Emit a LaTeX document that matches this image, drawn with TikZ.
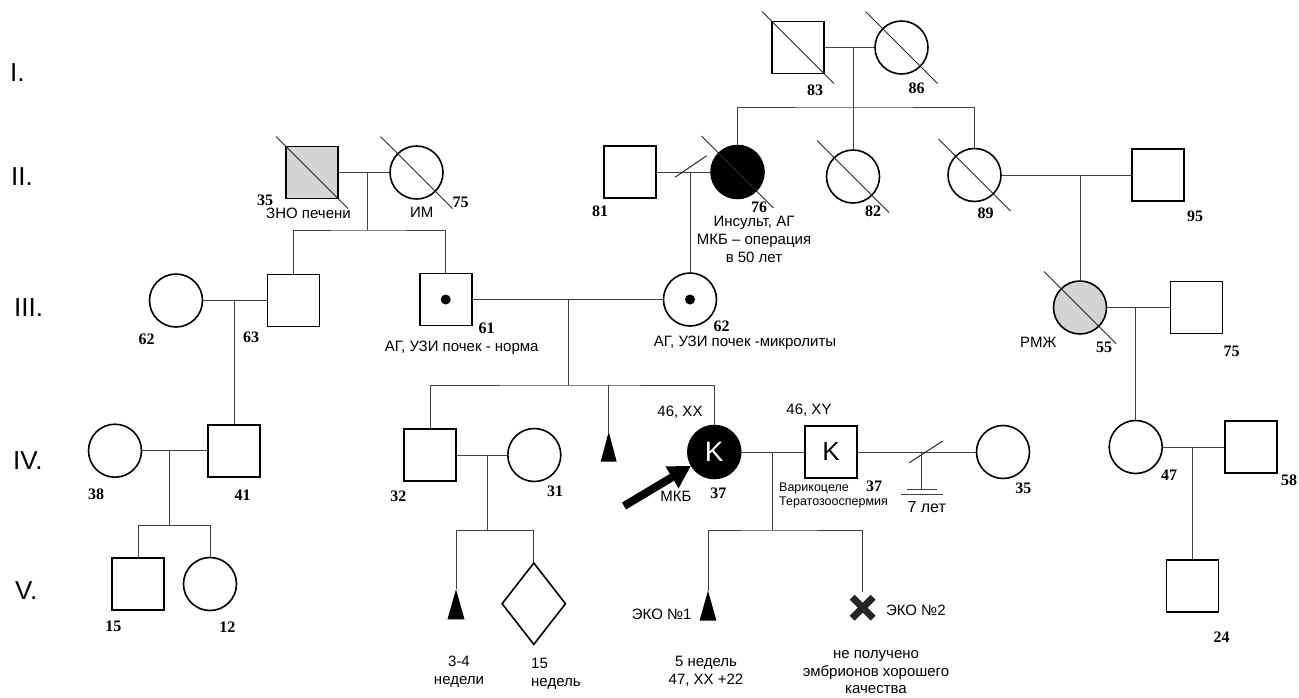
\documentclass[tikz,border=0pt]{standalone}
\usepackage{fontspec}
\setmainfont{Liberation Sans}
\newfontfamily\agefamily{Liberation Serif}
\usetikzlibrary{calc}
\usetikzlibrary{shapes.geometric}
\usetikzlibrary{arrows.meta}
\tikzset{>=latex}
\tikzstyle{male}=[draw,line width=1.6pt,minimum size=52pt,inner sep=0pt]
\tikzstyle{female}=[circle,draw,line width=1.6pt,minimum size=53pt,inner sep=0pt]
\tikzstyle{sick}=[fill=black]
\tikzstyle{spotted}=[fill=black!17]
\tikzstyle{carrier}=[path picture={\fill (path picture bounding box.center) circle (5pt);}]
\tikzstyle{link}=[line width=1pt,black!75]
\tikzstyle{slash}=[line width=1pt,black!85]
\tikzstyle{age}=[font=\agefamily\bfseries\fontsize{16}{16}\selectfont,inner sep=0pt]
\tikzstyle{note}=[font=\fontsize{15}{18}\selectfont,align=center,inner sep=0pt]
\tikzstyle{gen}=[font=\fontsize{26}{26}\selectfont,anchor=west,inner sep=0pt]
\newcommand{\dead}[1]{\draw[slash] ($(#1)+(-36,-36)$) -- ($(#1)+(36,36)$);}

\begin{document}
\begin{tikzpicture}[x=1pt,y=-1pt]
  \useasboundingbox (0,0) rectangle (1299,697);

  % generations
  \node[gen] (gI) at (10,72.5) {I.};
  \node[gen] (gII) at (11,176.5) {II.};
  \node[gen] (gIII) at (14,308) {III.};
  \node[gen] (gIV) at (13,461) {IV.};
  \node[gen] (gV) at (15,591) {V.};

  % generation I
  \node[male] (m83) at (798,47.5) {};
  \node[female] (f86) at (901.5,47.5) {};
  \dead{m83} \dead{f86}
  \node[age] (a83) at (815,90) {83};
  \node[age] (a86) at (916.7,88) {86};
  \coordinate (u1) at (853,47.5);
  \coordinate (s1) at (853,107);

  % generation II, left
  \node[male,spotted] (m35) at (312,172.5) {};
  \node[female] (f75) at (416.5,172.5) {};
  \dead{m35} \dead{f75}
  \node[age] (a35) at (265,200) {35};
  \node[age] (a75) at (460.7,202.7) {75};
  \node[note] (n35) at (308.5,213) {ЗНО печени};
  \node[note] (n75) at (421.7,212.7) {ИМ};
  \coordinate (u2) at (367.7,172.5);
  \coordinate (s2) at (367.7,230);

  % generation II, middle
  \node[male] (m81) at (630,172) {};
  \node[female,sick] (f76) at (737.5,172) {};
  \node[female] (f82) at (853,176.5) {};
  \dead{f76} \dead{f82}
  \node[age] (a81) at (600,211.7) {81};
  \node[age] (a76) at (759,207) {76};
  \node[age] (a82) at (873,211) {82};
  \node[note] (n76) at (754,239) {Инсульт, АГ\\МКБ – операция\\в 50 лет};
  \coordinate (u3) at (690,172);

  % generation II, right
  \node[female] (f89) at (974.5,175) {};
  \node[male] (m95) at (1157.7,175) {};
  \dead{f89}
  \node[age] (a89) at (985.7,213) {89};
  \node[age] (a95) at (1195,216.7) {95};
  \coordinate (u4) at (1080,175);

  % generation III
  \node[female] (f62a) at (176,300.5) {};
  \node[male] (m63) at (293.3,300.5) {};
  \node[male,carrier] (m61) at (445.7,299.5) {};
  \node[female,carrier] (f62b) at (690,299.5) {};
  \node[female,spotted] (f55) at (1080,307.5) {};
  \node[male] (m75) at (1196.3,307.5) {};
  \dead{f55}
  \node[age] (a62a) at (146.7,339.3) {62};
  \node[age] (a63) at (251,337.3) {63};
  \node[age] (a61) at (486.7,328.3) {61};
  \node[age] (a62b) at (721.7,326) {62};
  \node[age] (a55) at (1104,347.3) {55};
  \node[age] (a75b) at (1231.7,351.7) {75};
  \node[note] (n61) at (461.7,348.3) {АГ, УЗИ почек - норма};
  \node[note] (n62) at (745,342.7) {АГ, УЗИ почек -микролиты};
  \node[note] (n55) at (1038.3,342.7) {РМЖ};
  \coordinate (u5) at (236,300.5);
  \coordinate (u6) at (568,299.5);
  \coordinate (s6) at (568,385);
  \coordinate (u7) at (1136.7,307.5);

  % generation IV
  \node[female] (f38) at (115,450.7) {};
  \node[male] (m41) at (234,450.7) {};
  \node[male] (m32) at (430,455) {};
  \node[female] (f31) at (534.3,455) {};
  \coordinate (t4) at (608.7,431.7);
  \node[female,sick,text=white,font=\fontsize{28}{28}\selectfont] (fK) at (714.3,452) {K};
  \node[male,font=\fontsize{26}{26}\selectfont] (mK) at (831,452) {K};
  \node[female] (f35) at (1003,452) {};
  \node[female] (f47) at (1135.7,447) {};
  \node[male] (m58) at (1250.8,447) {};
  \node[age] (a38) at (96,494.3) {38};
  \node[age] (a41) at (242.7,495.7) {41};
  \node[age] (a32) at (398.3,496) {32};
  \node[age] (a31) at (555,491.7) {31};
  \node[age] (a37a) at (718.3,493.3) {37};
  \node[age] (a37b) at (874,486.5) {37};
  \node[age] (a35b) at (1023.3,488.3) {35};
  \node[age] (a47) at (1169,475) {47};
  \node[age] (a58) at (1289,480) {58};
  \node[note] (nxx) at (680,412.3) {46, XX};
  \node[note] (nxy) at (809,410.7) {46, XY};
  \node[note] (nmkb) at (676,496.7) {МКБ};
  \node[note,anchor=west,align=left,font=\fontsize{12.5}{14.3}\selectfont] (nvar) at (779,495.5) {Варикоцеле\\Тератозооспермия};
  \node[note,font=\fontsize{16}{16}\selectfont] (n7) at (926.7,506.7) {7 лет};
  \coordinate (u8) at (169.3,450.7);
  \coordinate (s8) at (169.3,525.7);
  \coordinate (u9) at (487.7,455);
  \coordinate (s9) at (487.7,530.7);
  \coordinate (u10) at (772.7,452);
  \coordinate (s10) at (772.7,530);
  \coordinate (u11) at (921.7,452);
  \coordinate (b11) at (921.7,489);
  \coordinate (u12) at (1192.7,447);
  \coordinate (arr) at (624,506);

  % generation V
  \node[male] (m15) at (138,584) {};
  \node[female] (f12) at (210,584) {};
  \coordinate (t5) at (456,589.3);
  \node[diamond,draw,line width=1.6pt,minimum width=64pt,minimum height=82pt,inner sep=0pt] (dm) at (533.8,603.7) {};
  \coordinate (t6) at (708,590.7);
  \coordinate (x2) at (862,592);
  \coordinate (x2c) at (862.7,607.7);
  \node[male] (m24) at (1192.3,586) {};
  \node[age] (a15) at (113.3,626.7) {15};
  \node[age] (a12) at (227.3,626.7) {12};
  \node[age] (a24) at (1221.7,636.7) {24};
  \node[note] (n34) at (459,672) {3-4\\недели};
  \node[note,anchor=west,align=left] (n15) at (531,674) {15\\недель};
  \node[note] (neko1) at (661.7,614) {ЭКО №1};
  \node[note] (n5) at (706,671) {5 недель\\47, XX +22};
  \node[note] (neko2) at (915.8,610.7) {ЭКО №2};
  \node[note,font=\fontsize{15}{17.5}\selectfont] (nno) at (876,672.5) {не получено\\эмбрионов хорошего\\качества};

  % miscarriages and failed IVF
  \fill (t4) -- ++(-8,30) -- ++(16,0) -- cycle;
  \fill (t5) -- ++(-8.5,30) -- ++(17,0) -- cycle;
  \fill (t6) -- ++(-8.5,30) -- ++(17,0) -- cycle;
  \draw[line width=7pt,black!85] ($(x2c)+(-10.5,-10.5)$) -- ($(x2c)+(10.5,10.5)$);
  \draw[line width=7pt,black!85] ($(x2c)+(-10.5,10.5)$) -- ($(x2c)+(10.5,-10.5)$);

  % connectors
  \draw[link] (m83) -- (f86);
  \draw[link] (u1) -- (f82.north);
  \draw[link] (f76.north) |- (s1) -| (f89.north);
  \draw[link] (m35) -- (f75);
  \draw[link] (u2) -- (s2);
  \draw[link] (m63.north) |- (s2) -| (m61.north);
  \draw[link] (m81) -- (f76);
  \draw[slash] ($(u3)+(-15,5.3)$) -- ($(u3)+(16.7,-16.3)$);
  \draw[link] (u3) -- (f62b.north);
  \draw[link] (f89) -- (m95);
  \draw[link] (f55.north) -- (f55.north |- u4);
  \draw[link] (f62a) -- (m63);
  \draw[link] (m41.north) -- (m41.north |- u5);
  \draw[link] (m61) -- (f62b);
  \draw[link] (u6) -- (s6);
  \draw[link] (m32.north) |- (s6) -| (fK.north);
  \draw[link] (t4) -- (t4 |- s6);
  \draw[link] (f55) -- (m75);
  \draw[link] (f47.north) -- (f47.north |- u7);
  \draw[link] (f38) -- (m41);
  \draw[link] (u8) -- (s8);
  \draw[link] (m15.north) |- (s8) -| (f12.north);
  \draw[link] (m32) -- (f31);
  \draw[link] (u9) -- (s9);
  \draw[link] (t5) |- (s9) -| (dm.north);
  \draw[link] (fK) -- (mK);
  \draw[link] (u10) -- (s10);
  \draw[link] (t6) |- (s10) -| (x2);
  \draw[link] (mK) -- (f35);
  \draw[slash] ($(u11)+(-12.4,10.7)$) -- ($(u11)+(21,-11)$);
  \draw[link] (u11) -- (b11);
  \draw[link] ($(b11)+(-15,0)$) -- ($(b11)+(15,0)$);
  \draw[link] ($(b11)+(-21,5.3)$) -- ($(b11)+(21,5.3)$);
  \draw[link] (f47) -- (m58);
  \draw[link] (m24.north) -- (m24.north |- u12);

  % proband
  \draw[-{Triangle[length=22pt 0 0,width=24pt 0 0]},line width=8pt] (arr) -- (fK);

\end{tikzpicture}
\end{document}
